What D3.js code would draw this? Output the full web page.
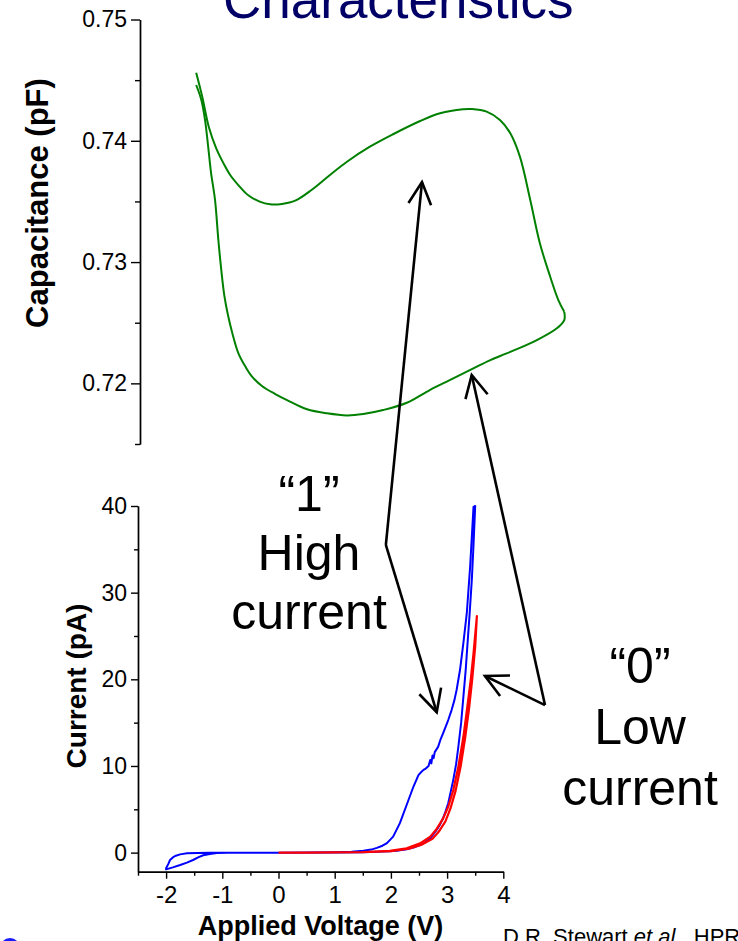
<!DOCTYPE html>
<html>
<head>
<meta charset="utf-8">
<script src="https://cdn.jsdelivr.net/npm/d3@7"></script>
<style>
  html, body { margin: 0; padding: 0; background: #fff; overflow: hidden; }
  svg { display: block; }
</style>
</head>
<body>
<svg id="chart" width="738" height="941"></svg>
<script>
// ---- Upper panel: C-V hysteresis loop (voltage in V, capacitance in pF) ----
// forward sweep -1.5 V -> 3.5 V
const capUpVoltage = [
  -1.49, -1.41, -1.32, -1.22, -1.12, -1.03, -0.92, -0.79, -0.63, -0.49, -0.33, -0.15,
  0.07, 0.32, 0.55, 0.86, 1.18, 1.54, 1.81, 2.12, 2.24, 2.44, 2.62, 2.76, 2.89,
  3.03, 3.16, 3.30, 3.41, 3.49
];
const capUpValues = [
  0.74561, 0.74369, 0.74116, 0.73940, 0.73814, 0.73718, 0.73635, 0.73553, 0.73498, 0.73476, 0.73479, 0.73506,
  0.73594, 0.73718, 0.73827, 0.73951, 0.74056, 0.74163, 0.74227, 0.74260, 0.74262, 0.74240, 0.74171, 0.74062, 0.73869,
  0.73512, 0.73155, 0.72879, 0.72687, 0.72590
];
// reverse sweep 3.5 V -> -1.5 V
const capDownVoltage = [
  3.49, 3.49, 3.39, 3.12, 2.71, 2.49, 2.26, 1.94, 1.67, 1.36, 1.04, 0.77, 0.55, 0.28,
  0.01, -0.26, -0.42, -0.60, -0.74, -0.82, -0.92, -1.005, -1.06, -1.11, -1.15,
  -1.19, -1.235, -1.29, -1.33, -1.37, -1.42, -1.49
];
const capDownValues = [
  0.72590, 0.72522, 0.72454, 0.72357, 0.72247, 0.72192, 0.72124, 0.72027, 0.71945, 0.71840, 0.71780, 0.71747, 0.71736, 0.71753,
  0.71786, 0.71862, 0.71912, 0.71978, 0.72060, 0.72134, 0.72250, 0.72423, 0.72563, 0.72728, 0.72934,
  0.73182, 0.73512, 0.73742, 0.73965, 0.74171, 0.74336, 0.74460
];

// ---- Lower panel: I-V sweeps (voltage in V, current in pA) ----
// "1" state sweep: up to 3.5 V on the high-current branch, back down, then to -2 V and back
const highVoltage = [
  0, 0.5, 1.0, 1.3, 1.51, 1.65, 1.75, 1.85, 1.93, 2.04, 2.16, 2.28, 2.40, 2.49, 2.54, 2.58,
  2.62, 2.67, 2.70, 2.72, 2.74, 2.76, 2.78, 2.84, 2.88, 2.93, 3.02, 3.08, 3.13, 3.17, 3.23,
  3.29, 3.35, 3.41, 3.47,
  3.50, 3.47, 3.44, 3.40, 3.36, 3.33, 3.29, 3.25, 3.20, 3.16, 3.11, 3.06, 3.02, 2.97, 2.93,
  2.87, 2.81, 2.70, 2.60, 2.52, 2.40, 2.28, 2.10, 1.98, 1.5, 1.0, 0,
  -0.5, -0.9, -1.10, -1.22, -1.34, -1.43, -1.52, -1.63, -1.75, -1.88, -2.0,
  -2.0, -1.96, -1.93, -1.88, -1.84, -1.75, -1.63, -1.45, -1.22, -0.5, 0
];
const highCurrent = [
  0, 0.01, 0.04, 0.1, 0.22, 0.35, 0.55, 0.8, 1.1, 1.85, 3.4, 5.5, 7.6, 8.95, 9.3, 9.55,
  9.7, 10.0, 10.7, 10.3, 11.2, 10.9, 11.6, 12.2, 13.0, 13.8, 15.3, 16.45, 17.6, 18.8, 21.1,
  24.2, 27.6, 33.0, 39.9,
  40.0, 35.5, 31.5, 27.5, 23.8, 21.0, 18.0, 15.0, 12.2, 10.2, 8.4, 6.9, 5.7, 4.7, 4.0,
  3.2, 2.6, 1.65, 1.15, 0.88, 0.6, 0.38, 0.22, 0.15, 0.05, 0.02, 0,
  0, -0.02, -0.05, -0.15, -0.3, -0.55, -0.85, -1.15, -1.43, -1.7, -1.93,
  -1.8, -1.3, -0.85, -0.55, -0.39, -0.2, -0.08, -0.03, 0, 0, 0
];
// "0" state sweep: 0 V -> 3.53 V -> 0 V
const lowVoltage = [
  0, 0.5, 1.0, 1.51, 1.98, 2.28, 2.52, 2.70, 2.81, 2.93, 3.02, 3.11, 3.20, 3.29, 3.36,
  3.42, 3.47, 3.53,
  3.50, 3.45, 3.39, 3.32, 3.24, 3.15, 3.06, 2.97, 2.85, 2.74, 2.56, 2.32, 2.0, 1.5, 1.0, 0.5, 0
];
const lowCurrent = [
  0, 0.01, 0.02, 0.07, 0.22, 0.5, 1.07, 1.83, 2.69, 3.96, 5.30, 7.22, 9.91, 13.37, 16.83,
  19.91, 23.0, 27.3,
  23.8, 20.2, 16.6, 13.2, 9.9, 7.1, 5.1, 3.6, 2.4, 1.6, 0.95, 0.45, 0.18, 0.05, 0.02, 0.01, 0
];

// ---- Axis ticks ----
const capTicks = [0.72, 0.73, 0.74, 0.75];
const capMinorTicks = [0.715, 0.725, 0.735, 0.745];
const currentTicks = [0, 10, 20, 30, 40];
const currentMinorTicks = [5, 15, 25, 35];
const voltageTicks = [-2, -1, 0, 1, 2, 3, 4];
const voltageMinorTicks = [-2.5, -1.5, -0.5, 0.5, 1.5, 2.5, 3.5];

// ---- Callout anchors (I-V panel: [V, pA]; C-V panel: [V, pF]) ----
const highBend = [1.91, 35.5];
const highCapTip = [1.565, 0.7366];
const highIvTip = [2.815, 16.2];
const lowBend = [4.742, 17.03];
const lowCapTip = [2.238, 0.72069];
const lowIvTip = [3.674, 20.38];

const highLabel = ["\u201C1\u201D", "High", "current"];
const lowLabel = ["\u201C0\u201D", "Low", "current"];

const FONT = "'Liberation Sans', Arial, Helvetica, sans-serif";
const svg = d3.select("#chart");
svg.append("rect").attr("width", 738).attr("height", 941).attr("fill", "#fff");

// Scales
const capX = d3.scaleLinear().domain([-2.25, 3.5]).range([140, 565]);
const capY = d3.scaleLinear().domain([0.715, 0.75]).range([444, 19.5]);
const ivX = d3.scaleLinear().domain([-2.5, 4]).range([138, 503.3]);
const ivY = d3.scaleLinear().domain([-2.2, 40]).range([871.7, 506]);

function styleAxis(g, size) {
  g.attr("font-family", FONT).attr("font-size", size);
  g.selectAll("line").attr("stroke", "#000").attr("stroke-width", 1.4);
  g.selectAll("path.domain").attr("stroke", "#000").attr("stroke-width", 1.4);
  g.selectAll("text").attr("fill", "#000");
}

// Title (second line of slide heading, clipped by the top edge)
svg.append("text")
  .attr("x", 223).attr("y", 18)
  .attr("font-family", FONT).attr("font-size", 53)
  .attr("fill", "#000066")
  .text("Characteristics");

// ---- Upper panel axis ----
svg.append("g").attr("transform", "translate(140,0)")
  .call(d3.axisLeft(capY).tickValues(capMinorTicks).tickSize(5).tickFormat("").tickSizeOuter(0))
  .call(g => styleAxis(g, 23));
svg.append("g").attr("transform", "translate(140,0)")
  .call(d3.axisLeft(capY).tickValues(capTicks).tickSize(9).tickPadding(4)
    .tickFormat(d3.format(".2f")).tickSizeOuter(0))
  .call(g => styleAxis(g, 23));

svg.append("text")
  .attr("transform", "translate(48,203) rotate(-90)")
  .attr("text-anchor", "middle")
  .attr("font-family", FONT).attr("font-size", 31).attr("font-weight", "bold")
  .text("Capacitance (pF)");

// C-V loop: each sweep direction drawn as its own smooth branch
const capLine = d3.line().x(d => capX(d[0])).y(d => capY(d[1])).curve(d3.curveCatmullRom.alpha(0.5));
[
  capUpVoltage.map((v, i) => [v, capUpValues[i]]),
  capDownVoltage.map((v, i) => [v, capDownValues[i]])
].forEach(branch => {
  svg.append("path")
    .datum(branch)
    .attr("fill", "none")
    .attr("stroke", "#008000")
    .attr("stroke-width", 2)
    .attr("stroke-linejoin", "round")
    .attr("d", capLine);
});

// ---- Lower panel axes ----
svg.append("g").attr("transform", "translate(138,0)")
  .call(d3.axisLeft(ivY).tickValues(currentMinorTicks).tickSize(4).tickFormat("").tickSizeOuter(0))
  .call(g => styleAxis(g, 23));
svg.append("g").attr("transform", "translate(138,0)")
  .call(d3.axisLeft(ivY).tickValues(currentTicks).tickSize(7).tickPadding(4)
    .tickFormat(d => String(d)).tickSizeOuter(0))
  .call(g => styleAxis(g, 23));

svg.append("g").attr("transform", "translate(0,871.7)")
  .call(d3.axisBottom(ivX).tickValues(voltageMinorTicks).tickSize(4).tickFormat("").tickSizeOuter(0))
  .call(g => styleAxis(g, 24));
svg.append("g").attr("transform", "translate(0,871.7)")
  .call(d3.axisBottom(ivX).tickValues(voltageTicks).tickSize(7).tickPadding(7)
    .tickFormat(d => String(d)).tickSizeOuter(0))
  .call(g => styleAxis(g, 24));

svg.append("text")
  .attr("transform", "translate(86,686) rotate(-90)")
  .attr("text-anchor", "middle")
  .attr("font-family", FONT).attr("font-size", 28).attr("font-weight", "bold")
  .text("Current (pA)");

svg.append("text")
  .attr("x", 320.6).attr("y", 935)
  .attr("text-anchor", "middle")
  .attr("font-family", FONT).attr("font-size", 27).attr("font-weight", "bold")
  .text("Applied Voltage (V)");

// I-V curves
const ivLine = d3.line().x(d => ivX(d[0])).y(d => ivY(d[1]));
svg.append("path")
  .datum(highVoltage.map((v, i) => [v, highCurrent[i]]))
  .attr("fill", "none").attr("stroke", "#0000ff").attr("stroke-width", 2)
  .attr("stroke-linejoin", "round")
  .attr("d", ivLine);
svg.append("path")
  .datum(lowVoltage.map((v, i) => [v, lowCurrent[i]]))
  .attr("fill", "none").attr("stroke", "#ff0000").attr("stroke-width", 2.2)
  .attr("stroke-linejoin", "round")
  .attr("d", ivLine);

// ---- Callouts ----
function drawLabel(lines, cx, baselines) {
  const t = svg.append("text")
    .attr("text-anchor", "middle")
    .attr("font-family", FONT).attr("font-size", 50).attr("fill", "#000");
  lines.forEach((s, i) => t.append("tspan").attr("x", cx).attr("y", baselines[i]).text(s));
}
drawLabel(highLabel, 309, [511, 570, 629]);
drawLabel(lowLabel, 640, [683, 744, 805]);

function arrow(tail, tip) {
  const dx = tail[0] - tip[0], dy = tail[1] - tip[1];
  const len = Math.hypot(dx, dy);
  const ux = dx / len, uy = dy / len;
  const a = 27 * Math.PI / 180, L = 25;
  const rot = s => [tip[0] + L * (ux * Math.cos(s * a) - uy * Math.sin(s * a)),
                    tip[1] + L * (ux * Math.sin(s * a) + uy * Math.cos(s * a))];
  const p1 = rot(1), p2 = rot(-1);
  svg.append("path")
    .attr("d", `M${tail[0]},${tail[1]}L${tip[0]},${tip[1]}`)
    .attr("stroke", "#000").attr("stroke-width", 2.6).attr("fill", "none");
  svg.append("path")
    .attr("d", `M${p1[0]},${p1[1]}L${tip[0]},${tip[1]}L${p2[0]},${p2[1]}`)
    .attr("stroke", "#000").attr("stroke-width", 2.6).attr("fill", "none")
    .attr("stroke-linejoin", "miter");
}
const ivPt = d => [ivX(d[0]), ivY(d[1])];
const capPt = d => [capX(d[0]), capY(d[1])];
arrow(ivPt(highBend), capPt(highCapTip));
arrow(ivPt(highBend), ivPt(highIvTip));
arrow(ivPt(lowBend), capPt(lowCapTip));
arrow(ivPt(lowBend), ivPt(lowIvTip));

// Citation (runs off the bottom/right edges of the slide)
const cite = svg.append("text")
  .attr("x", 503).attr("y", 944)
  .attr("font-family", FONT).attr("font-size", 22).attr("fill", "#000");
cite.append("tspan").text("D.R. Stewart ");
cite.append("tspan").attr("font-style", "italic").text("et al.");
cite.append("tspan").text(", HPRL");

// Partial logo mark at the lower-left corner
svg.append("circle").attr("cx", 10).attr("cy", 948).attr("r", 10).attr("fill", "#1a1aff");
</script>
</body>
</html>
